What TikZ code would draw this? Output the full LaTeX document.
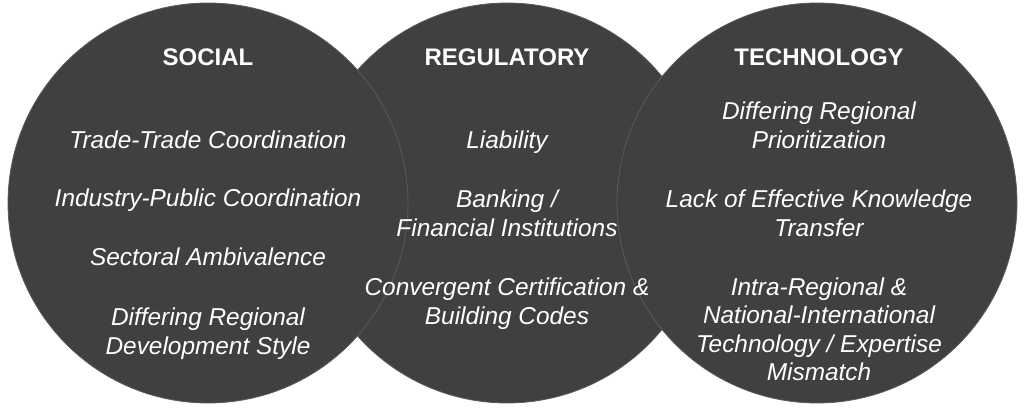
\documentclass[tikz,border=0pt]{standalone}
\usepackage{fontspec}
\setmainfont{Liberation Sans}
\usetikzlibrary{positioning}
\definecolor{circlegrey}{HTML}{404040}
\definecolor{edgegrey}{HTML}{5A5A5A}
\tikzset{
    venn/.style={circle, fill=circlegrey, draw=edgegrey, line width=0.4pt,
        minimum size=200pt, inner sep=0pt},
    head/.style={anchor=base, text=white, inner sep=0pt,
        font=\fontsize{12}{14.25}\selectfont\bfseries},
    item/.style={anchor=base, text=white, inner sep=0pt, align=center,
        font=\fontsize{12.2}{14.25}\selectfont\itshape}
}
\begin{document}
\begin{tikzpicture}[x=0.5pt, y=-0.5pt]
                    \useasboundingbox (0, 0) rectangle (1024, 411);
                    % Circles
                    \node[venn] (regulatory) at (507, 203) {};
                    \node[venn] (social) at (208, 203) {};
                    \node[venn] (technology) at (817, 203) {};
                    % Labels
                    \node[head] (socialhead) at (208, 66) {SOCIAL};
                    \node[head] (reghead) at (507, 66) {REGULATORY};
                    \node[head] (techhead) at (819, 66) {TECHNOLOGY};
                    % Social (base = last line)
                    \node[item] (trade) at (208, 148.5) {Trade-Trade Coordination};
                    \node[item] (industry) at (208, 207) {Industry-Public Coordination};
                    \node[item] (sectoral) at (208, 266) {Sectoral Ambivalence};
                    \node[item] (devstyle) at (208, 354.5) {Differing Regional\\Development Style};
                    % Regulatory
                    \node[item] (liability) at (507, 149) {Liability};
                    \node[item] (banking) at (507, 236.5) {Banking /\\Financial Institutions};
                    \node[item] (codes) at (507, 324.5) {Convergent Certification \&\\Building Codes};
                    % Technology
                    \node[item] (priority) at (819, 148.5) {Differing Regional\\Prioritization};
                    \node[item] (transfer) at (819, 236.5) {Lack of Effective Knowledge\\Transfer};
                    \node[item] (mismatch) at (819, 381) {Intra-Regional \&\\National-International\\Technology / Expertise\\Mismatch};
                \end{tikzpicture}
\end{document}
